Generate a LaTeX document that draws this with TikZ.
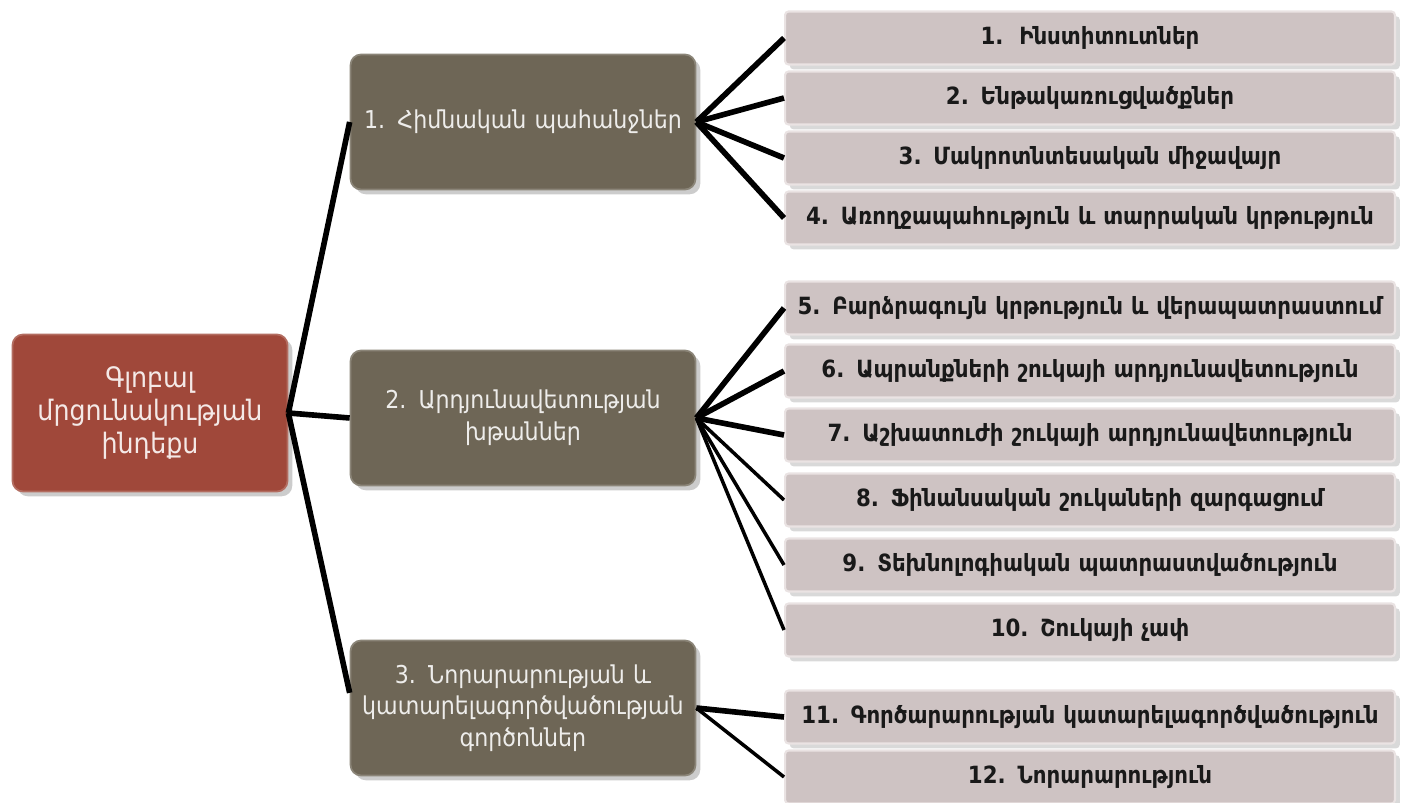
\documentclass[tikz,border=0pt]{standalone}
\usepackage{fontspec}
\setmainfont{DejaVu Sans}
\newfontfamily\condfont{DejaVu Sans Condensed}
\usetikzlibrary{shadows}

\definecolor{rootred}{HTML}{A0483A}
\definecolor{midgray}{HTML}{6E6656}
\definecolor{leafpink}{HTML}{CEC3C3}
\definecolor{leafedge}{HTML}{EAE3E3}

\begin{document}
\begin{tikzpicture}[x=0.02cm,y=-0.02cm,
  rootbox/.style={draw=rootred!80!white,line width=1pt,fill=rootred,rounded corners=6pt,
    inner xsep=0pt,text width=5.5cm,minimum height=3.14cm,align=center,text=white!88!rootred,
    font=\condfont\fontsize{16}{19}\selectfont,drop shadow={opacity=0.4}},
  midbox/.style={draw=midgray!80!white,line width=1pt,fill=midgray,rounded corners=6pt,
    inner xsep=0pt,text width=6.9cm,minimum height=2.7cm,align=center,text=white!88!midgray,
    font=\condfont\fontsize{14}{18}\selectfont,drop shadow={opacity=0.4}},
  leafbox/.style={draw=leafedge,line width=1.2pt,fill=leafpink,rounded corners=2pt,
    inner xsep=0pt,text width=12.2cm,minimum height=1.06cm,align=center,text=black!90,
    font=\condfont\bfseries\fontsize{13.5}{16}\selectfont,drop shadow={opacity=0.3}},
  link/.style={draw=black,line width=3.2pt},
  thinlink/.style={draw=black,line width=2pt}]
\useasboundingbox (0,0) rectangle (1410,803);

\node[rootbox] (root) at (150,413) {Գլոբալ\\մրցունակության\\ինդեքս};

\node[midbox] (m1) at (523,122) {1. Հիմնական պահանջներ};
\node[midbox] (m2) at (523,418) {2. Արդյունավետության\\խթաններ};
\node[midbox] (m3) at (523,708) {3. Նորարարության և\\կատարելագործվածության\\գործոններ};

\begin{scope}[every node/.style={leafbox}]
  \node (r1) at (1090,38) {1.\ \ Ինստիտուտներ};
  \node (r2) at (1090,98) {2. Ենթակառուցվածքներ};
  \node (r3) at (1090,158) {3. Մակրոտնտեսական միջավայր};
  \node (r4) at (1090,218) {4. Առողջապահություն և տարրական կրթություն};
  \node (r5) at (1090,308) {5. Բարձրագույն կրթություն և վերապատրաստում};
  \node (r6) at (1090,371) {6. Ապրանքների շուկայի արդյունավետություն};
  \node (r7) at (1090,435) {7. Աշխատուժի շուկայի արդյունավետություն};
  \node (r8) at (1090,500) {8. Ֆինանսական շուկաների զարգացում};
  \node (r9) at (1090,565) {9. Տեխնոլոգիական պատրաստվածություն};
  \node (r10) at (1090,630) {10. Շուկայի չափ};
  \node (r11) at (1090,717) {11. Գործարարության կատարելագործվածություն};
  \node (r12) at (1090,777) {12. Նորարարություն};
\end{scope}

\path [link] (root.east) edge (m1.west) edge (m2.west) edge (m3.175);
\path [link] (m1.east) edge (r1.west) edge (r2.west) edge (r3.west) edge (r4.west);
\path [link] (m2.east) edge (r5.west) edge (r6.west) edge (r7.west);
\path [thinlink] (m2.east) edge (r8.west) edge (r9.west) edge (r10.west);
\path [link] (m3.east) edge (r11.west);
\path [thinlink] (m3.east) edge (r12.west);
\end{tikzpicture}
\end{document}
